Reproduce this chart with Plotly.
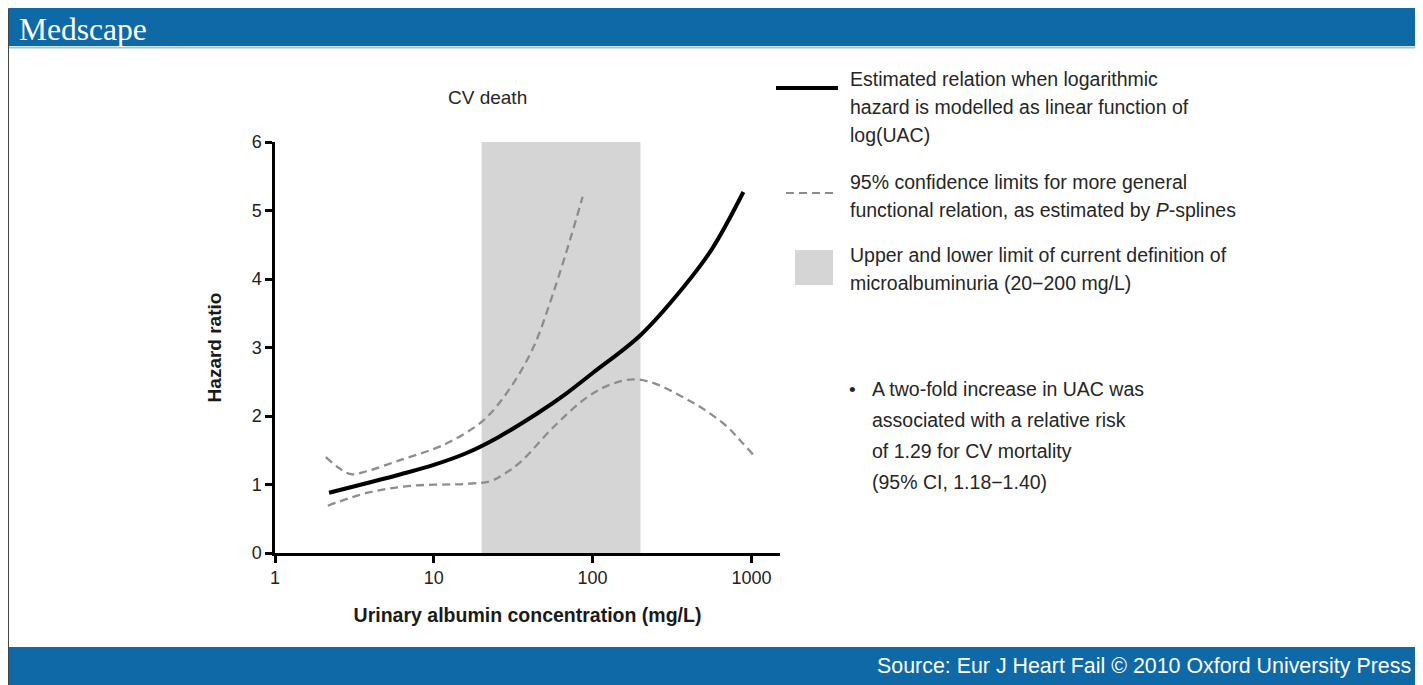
import plotly.graph_objects as go

# ---------------- data ----------------
uac_fit = [2.19, 6.2, 10.1, 16.1, 25, 45, 67.5, 101, 200, 373, 565, 890]
hr_fit = [0.88, 1.15, 1.29, 1.46, 1.68, 2.04, 2.32, 2.635, 3.18, 3.88, 4.44, 5.27]

uac_upper = [2.09, 2.53, 3.0, 3.73, 6.2, 10, 12.8, 20.6, 30.5, 42.5, 56, 72.7, 86.5]
hr_upper = [1.40, 1.24, 1.15, 1.19, 1.36, 1.52, 1.63, 1.94, 2.42, 3.01, 3.77, 4.60, 5.20]

uac_lower = [2.15, 3.84, 7.14, 16.3, 22.8, 27.6, 35.2, 56.8, 93, 130, 181, 250, 373, 500, 706, 853, 1030]
hr_lower = [0.69, 0.88, 0.98, 1.01, 1.05, 1.15, 1.33, 1.84, 2.28, 2.46, 2.535, 2.47, 2.27, 2.10, 1.84, 1.64, 1.43]

micro_range = [20, 200]
y_max = 6

x_tickvals = [1, 10, 100, 1000]
x_ticktext = ["1", "10", "100", "1000"]
y_tickvals = [0, 1, 2, 3, 4, 5, 6]

chart_title = "CV death"
x_title = "Urinary albumin concentration (mg/L)"
y_title = "Hazard ratio"
legend_solid = ["Estimated relation when logarithmic", "hazard is modelled as linear function of", "log(UAC)"]
legend_dash = ["95% confidence limits for more general", "functional relation, as estimated by <i>P</i>-splines"]
legend_box = ["Upper and lower limit of current definition of", "microalbuminuria (20\u2212200 mg/L)"]
bullet_lines = ["A two-fold increase in UAC was", "associated with a relative risk", "of 1.29 for CV mortality", "(95% CI, 1.18\u22121.40)"]
source_text = "Source: Eur J Heart Fail \u00a9 2010 Oxford University Press"
brand = "Medscape"

# ---------------- geometry (reference pixel frame) ----------------
OX, OY = 8, 8                      # page body margin
W, H = 1423 - OX, 685 - OY
X0, X1, Y0, Y1 = 275, 780, 553, 142   # plot area in reference pixels
L, R, T, B = X0 - OX, 1423 - X1, Y1 - OY, 685 - Y0
PW, PH = X1 - X0, Y0 - Y1


def px(x):
    return (x - X0) / PW


def py(y):
    return (Y0 - y) / PH


FONT = "Liberation Sans, Arial, sans-serif"
TXT = "#262626"
BLUE = "#0f69a6"
GRAY_BOX = "#d5d5d6"
DASH_COL = "#8d8d8d"

fig = go.Figure()

# microalbuminuria band
fig.add_trace(go.Scatter(
    x=[micro_range[0], micro_range[1], micro_range[1], micro_range[0], micro_range[0]],
    y=[0, 0, y_max, y_max, 0],
    fill="toself", fillcolor=GRAY_BOX, line=dict(width=0), mode="lines",
    hoverinfo="skip", showlegend=False))

dash_line = dict(color=DASH_COL, width=2.3, dash="8px,5px", shape="spline", smoothing=1)
fig.add_trace(go.Scatter(x=uac_upper, y=hr_upper, mode="lines", line=dash_line, showlegend=False))
fig.add_trace(go.Scatter(x=uac_lower, y=hr_lower, mode="lines", line=dash_line, showlegend=False))
fig.add_trace(go.Scatter(x=uac_fit, y=hr_fit, mode="lines",
                         line=dict(color="black", width=4, shape="spline", smoothing=1),
                         showlegend=False))

shapes = []
annotations = []

# frame, header and footer
shapes.append(dict(type="rect", xref="paper", yref="paper", x0=px(8.5), x1=px(1416), y0=py(685), y1=py(8.5),
                   line=dict(color="#444", width=1), fillcolor="rgba(0,0,0,0)", layer="below"))
shapes.append(dict(type="rect", xref="paper", yref="paper", x0=px(9), x1=px(1416), y0=py(46), y1=py(8),
                   line=dict(width=0), fillcolor=BLUE))
shapes.append(dict(type="line", xref="paper", yref="paper", x0=px(9), x1=px(1416), y0=py(47.5), y1=py(47.5),
                   line=dict(color="#9fc7df", width=2)))
shapes.append(dict(type="rect", xref="paper", yref="paper", x0=px(9), x1=px(1416), y0=py(686), y1=py(647),
                   line=dict(width=0), fillcolor=BLUE))

# legend symbols
shapes.append(dict(type="line", xref="paper", yref="paper", x0=px(776), x1=px(838), y0=py(88), y1=py(88),
                   line=dict(color="black", width=4)))
shapes.append(dict(type="line", xref="paper", yref="paper", x0=px(786), x1=px(838), y0=py(193), y1=py(193),
                   line=dict(color=DASH_COL, width=2, dash="8px,5px")))
shapes.append(dict(type="rect", xref="paper", yref="paper", x0=px(795), x1=px(833), y0=py(285), y1=py(250),
                   line=dict(width=0), fillcolor=GRAY_BOX))


def add_lines(lines, x0, y0, step, size=19.5):
    for i, t in enumerate(lines):
        annotations.append(dict(text=t, x=px(x0), y=py(y0 + i * step), xref="paper", yref="paper",
                                xanchor="left", yanchor="middle", showarrow=False,
                                font=dict(family=FONT, size=size, color=TXT)))


add_lines(legend_solid, 848, 79, 28)
add_lines(legend_dash, 848, 182, 28)
add_lines(legend_box, 848, 255, 28)
annotations.append(dict(text="\u2022", x=px(847), y=py(389), xref="paper", yref="paper",
                        xanchor="left", yanchor="middle", showarrow=False,
                        font=dict(family=FONT, size=19, color=TXT)))
add_lines(bullet_lines, 870, 389, 31)

annotations.append(dict(text=chart_title, x=px(487), y=py(98), xref="paper", yref="paper",
                        xanchor="center", yanchor="middle", showarrow=False,
                        font=dict(family=FONT, size=19, color=TXT)))
annotations.append(dict(text=source_text, x=px(1413), y=py(666), xref="paper", yref="paper",
                        xanchor="right", yanchor="middle", showarrow=False,
                        font=dict(family=FONT, size=21.4, color="white")))
annotations.append(dict(text=brand, x=px(17), y=py(29), xref="paper", yref="paper",
                        xanchor="left", yanchor="middle", showarrow=False,
                        font=dict(family="Liberation Serif, Times New Roman, serif", size=31.5, color="white")))

fig.update_layout(
    width=W, height=H,
    margin=dict(l=L, r=R, t=T, b=B, pad=0),
    paper_bgcolor="white", plot_bgcolor="white",
    shapes=shapes, annotations=annotations,
    showlegend=False,
    xaxis=dict(type="log", range=[0, 3.18], tickvals=x_tickvals, ticktext=x_ticktext,
               showgrid=False, zeroline=False, showline=True, linecolor="black", linewidth=2.5,
               ticks="outside", ticklen=7, tickwidth=2.5, tickcolor="black",
               tickfont=dict(family=FONT, size=18, color="#222"),
               title=dict(text="<b>" + x_title + "</b>", standoff=22,
                          font=dict(family=FONT, size=19.5, color="#1a1a1a"))),
    yaxis=dict(range=[0, y_max], tickvals=y_tickvals,
               showgrid=False, zeroline=False, showline=True, linecolor="black", linewidth=2.5,
               ticks="outside", ticklen=7, tickwidth=2.5, tickcolor="black",
               tickfont=dict(family=FONT, size=18, color="#222"),
               title=dict(text="<b>" + y_title + "</b>", standoff=25,
                          font=dict(family=FONT, size=19, color="#1a1a1a"))),
)

fig.write_html("out.html")
